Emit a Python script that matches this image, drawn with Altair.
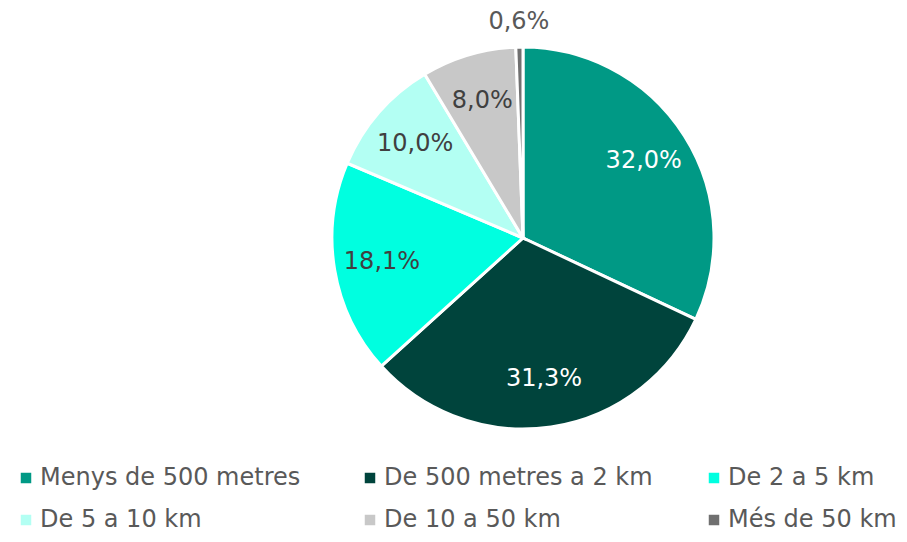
import altair as alt
import pandas as pd

categories = ["Menys de 500 metres", "\u00a0De 500 metres a 2 km", "De 2 a 5 km",
              "De 5 a 10 km", "De 10 a 50 km", "Més de 50 km"]
values = [32.0, 31.3, 18.1, 10.0, 8.0, 0.6]
labels = ["32,0%", "31,3%", "18,1%", "10,0%", "8,0%", "0,6%"]
colors = ["#009985", "#00443C", "#00FFE0", "#B3FFF3", "#C8C8C8", "#707070"]
label_colors = ["#FFFFFF", "#FFFFFF", "#404040", "#404040", "#404040", "#595959"]

df = pd.DataFrame({
    "cat": categories,
    "val": values,
    "lab": labels,
    "order": list(range(len(categories))),
    "lc": label_colors,
    "inside": [v >= 1 for v in values],
})

FONT = "DejaVu Sans"
cx, cy, R = 515, 230, 191

base = alt.Chart(df).encode(
    theta=alt.Theta("val:Q", stack=True),
    order=alt.Order("order:Q"),
)

arcs = base.mark_arc(outerRadius=R, stroke="white", strokeWidth=3).encode(
    x=alt.value(cx), y=alt.value(cy),
    color=alt.Color(
        "cat:N",
        scale=alt.Scale(domain=categories, range=colors),
        sort=categories,
        legend=alt.Legend(
            title=None, orient="none", legendX=6, legendY=458,
            direction="horizontal", columns=3, gridAlign="all",
            columnPadding=49, rowPadding=18,
            symbolType="square", symbolSize=110, symbolStrokeWidth=0,
            labelFont=FONT, labelFontSize=24, labelColor="#595959",
            labelLimit=400, symbolOffset=0, labelOffset=2,
        ),
    ),
)

inner = base.mark_text(radius=143, font=FONT, fontSize=24).encode(
    x=alt.value(cx), y=alt.value(cy),
    text="lab:N",
    color=alt.Color("lc:N", scale=None),
    opacity=alt.condition("datum.inside", alt.value(1), alt.value(0)),
)

outer = base.mark_text(radius=216, font=FONT, fontSize=24).encode(
    x=alt.value(cx), y=alt.value(cy),
    text="lab:N",
    color=alt.Color("lc:N", scale=None),
    opacity=alt.condition("datum.inside", alt.value(0), alt.value(1)),
)

chart = alt.layer(arcs, inner, outer).properties(
    width=891, height=526, padding=0,
    autosize=alt.AutoSizeParams(type="none"),
).configure_view(stroke=None)

chart.save("out.html", embed_options={"renderer": "svg", "actions": False})
